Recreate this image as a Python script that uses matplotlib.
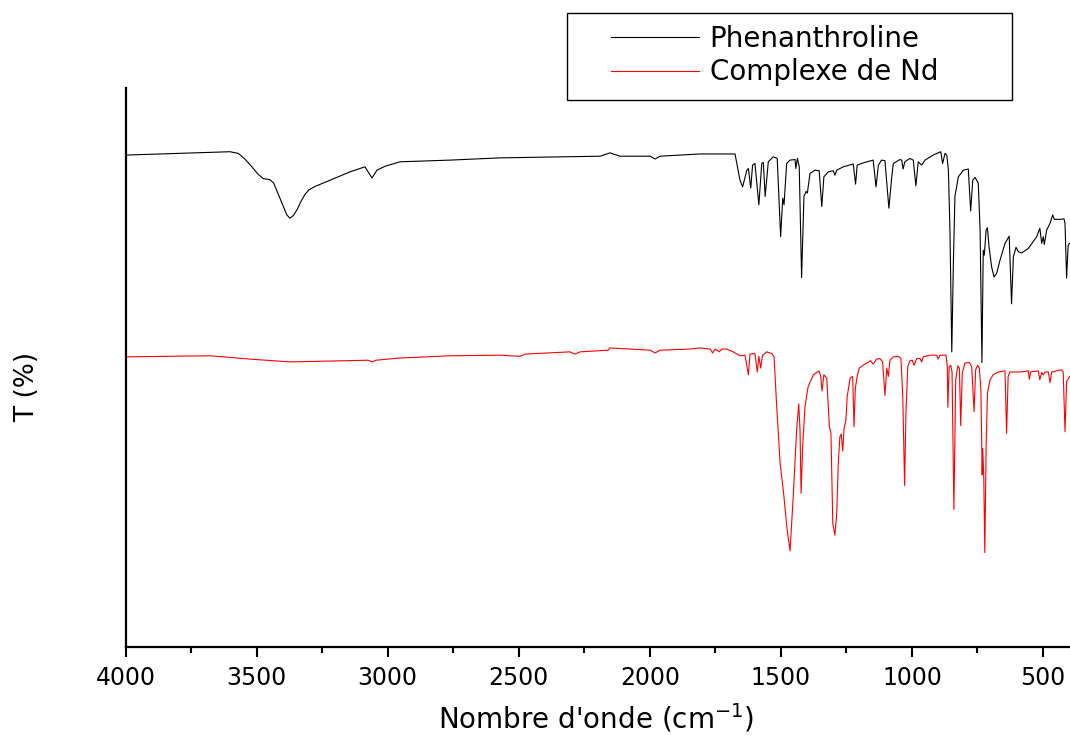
import matplotlib
matplotlib.use("Agg")
import matplotlib.pyplot as plt
from matplotlib.ticker import MultipleLocator
from matplotlib.patches import Rectangle

# ---- data (wavenumber cm-1, transmittance in arbitrary %) ----
phen_wn = [4000, 3602, 3570, 3545, 3520, 3495, 3475, 3450, 3435, 3420, 3400, 3385, 3373, 3360,
           3345, 3330, 3315, 3300, 3277, 3220, 3144, 3087,
           3060, 3041, 3010, 2953, 2762, 2572, 2190, 2152, 2114, 1999, 1980, 1961, 1885, 1809,
           1675, 1656, 1646, 1630, 1624, 1615, 1608, 1599, 1584, 1573, 1567, 1560, 1548, 1529,
           1514, 1501, 1493, 1488, 1478, 1465, 1446, 1443, 1437, 1430, 1421, 1412, 1404, 1399,
           1389, 1370, 1354, 1344, 1336, 1319, 1300, 1294, 1287, 1262, 1224, 1215, 1209, 1186,
           1148, 1137, 1128, 1116, 1103, 1088, 1077, 1071, 1046, 1039, 1034, 1027, 1008, 995,
           985, 976, 963, 950, 919, 890, 883, 874, 867, 861, 855, 848, 842, 836, 823, 804, 785,
           776, 768, 759, 747, 740, 733, 728, 724, 717, 712, 706, 696, 687, 677, 664, 645, 629,
           620, 613, 603, 594, 581, 556, 524, 512, 505, 499, 495, 486, 473, 463, 457, 435, 420,
           416, 410, 404, 398]
phen_T = [88.0, 88.6, 88.3, 87.3, 86.0, 84.6, 83.8, 83.6, 83.0, 81.3, 79.0, 77.3, 76.7, 77.2,
          78.3, 79.8, 81.0, 81.8, 82.4, 83.5, 85.0, 85.9,
          83.9, 85.3, 86.0, 86.8, 87.1, 87.5, 87.8, 88.4, 87.8, 87.8, 87.3, 87.8, 88.0, 88.2,
          88.2, 83.5, 82.3, 85.3, 85.6, 82.1, 86.2, 86.5, 79.1, 86.5, 86.7, 80.6, 86.8, 87.7,
          87.4, 73.4, 80.3, 79.1, 86.5, 87.1, 87.2, 85.6, 87.4, 85.9, 66.1, 80.6, 81.5, 81.2,
          84.7, 85.3, 85.2, 78.8, 84.1, 85.0, 85.2, 84.4, 85.3, 85.9, 86.4, 82.8, 86.2, 86.6,
          87.1, 82.3, 86.2, 87.1, 87.0, 78.5, 84.1, 86.5, 87.2, 87.1, 85.5, 86.8, 87.4, 87.1,
          82.5, 86.8, 86.2, 87.1, 88.0, 88.6, 86.5, 88.3, 88.0, 85.3, 74.6, 52.8, 68.6, 80.6,
          84.1, 85.3, 85.5, 78.0, 83.5, 84.0, 83.0, 74.6, 50.9, 71.0, 70.1, 74.6, 75.0, 71.6,
          68.0, 66.2, 66.8, 69.2, 72.2, 73.5, 61.4, 69.8, 71.5, 70.7, 70.5, 71.3, 73.4, 74.9,
          72.2, 73.4, 72.0, 74.6, 75.8, 77.3, 76.5, 76.5, 76.6, 75.8, 66.0, 71.9, 72.2]

nd_wn = [4000, 3678, 3525, 3373, 3182, 3075, 3060, 3045, 2953, 2762, 2572, 2495, 2476, 2305,
         2285, 2266, 2159, 2152, 1999, 1980, 1961, 1847, 1809, 1770, 1760, 1751, 1735, 1726,
         1707, 1682, 1656, 1637, 1624, 1618, 1599, 1590, 1584, 1577, 1570, 1554, 1535, 1526,
         1516, 1503, 1491, 1476, 1465, 1453, 1440, 1432, 1427, 1423, 1417, 1408, 1396, 1376,
         1354, 1348, 1343, 1336, 1325, 1315, 1309, 1302, 1294, 1287, 1281, 1275, 1270, 1264,
         1259, 1252, 1247, 1236, 1226, 1221, 1216, 1209, 1201, 1186, 1173, 1158, 1148, 1135,
         1122, 1112, 1103, 1096, 1090, 1084, 1071, 1052, 1042, 1035, 1028, 1023, 1016, 1008,
         999, 992, 982, 969, 963, 957, 931, 906, 900, 893, 870, 865, 863, 858, 852, 847, 840,
         833, 825, 819, 814, 808, 798, 781, 772, 763, 757, 749, 743, 737, 732, 730, 726, 722,
         717, 712, 702, 690, 671, 645, 639, 633, 626, 588, 556, 552, 547, 518, 512, 505, 499,
         492, 480, 473, 467, 448, 429, 423, 416, 410, 398]
nd_T = [51.9, 52.1, 51.5, 51.0, 51.2, 51.3, 51.0, 51.3, 51.7, 52.1, 52.2, 52.0, 52.4, 52.8,
        52.4, 52.8, 53.1, 53.5, 53.1, 52.6, 53.1, 53.3, 53.5, 53.3, 52.6, 53.3, 52.8, 53.3,
        53.3, 52.8, 52.1, 52.2, 48.7, 52.4, 52.5, 49.2, 52.0, 49.9, 52.2, 52.8, 52.5, 51.9,
        43.0, 32.9, 28.1, 20.9, 17.2, 26.9, 38.8, 43.5, 38.8, 27.5, 35.8, 43.0, 46.6, 48.7,
        49.4, 48.4, 45.8, 48.7, 48.1, 39.4, 38.2, 22.1, 20.0, 23.9, 32.9, 37.6, 38.1, 35.1,
        39.1, 40.6, 44.8, 48.1, 48.4, 39.4, 46.3, 48.4, 49.9, 50.4, 50.8, 51.2, 50.6, 51.5,
        51.6, 51.0, 45.0, 49.9, 48.4, 51.3, 51.9, 52.0, 51.6, 44.8, 28.9, 41.8, 50.1, 51.2,
        51.3, 50.4, 51.6, 51.6, 51.0, 51.9, 52.2, 52.2, 51.5, 52.2, 52.2, 50.1, 42.9, 50.1,
        50.4, 49.2, 24.6, 47.8, 50.3, 49.9, 39.6, 49.0, 50.8, 50.9, 50.1, 42.1, 49.6, 50.4,
        49.9, 46.0, 30.8, 35.5, 30.5, 16.9, 35.8, 45.4, 47.8, 48.7, 49.2, 49.4, 38.2, 48.4,
        49.2, 49.2, 49.4, 47.9, 49.2, 49.4, 47.8, 49.1, 48.7, 49.2, 49.2, 47.3, 49.2, 49.4,
        49.6, 49.2, 38.5, 47.5, 48.4]

series_labels = ["Phenanthroline", "Complexe de Nd"]
series_colors = ["#000000", "#ff0000"]
x_ticks = [4000, 3500, 3000, 2500, 2000, 1500, 1000, 500]

# ---- figure ----
W, H = 1070, 736
fig = plt.figure(figsize=(W / 100, H / 100), dpi=100)
ax = fig.add_axes([125.6 / W, (H - 647) / H, (W - 125.6) / W, (647 - 88) / H])

l1, = ax.plot(phen_wn, phen_T, color=series_colors[0], lw=0.8, label=series_labels[0])
l2, = ax.plot(nd_wn, nd_T, color=series_colors[1], lw=0.8, label=series_labels[1])

ax.set_xlim(4000, 397)
ax.set_ylim(0, 100)
ax.set_xticks(x_ticks)
ax.set_xticklabels([str(t) for t in x_ticks])
ax.xaxis.set_minor_locator(MultipleLocator(250))
ax.set_yticks([])

for s in ["top", "right"]:
    ax.spines[s].set_visible(False)
for s in ["left", "bottom"]:
    ax.spines[s].set_linewidth(1.6)

ax.tick_params(axis="x", which="major", direction="out", length=7, width=1.5,
               labelsize=17, pad=7)
ax.tick_params(axis="x", which="minor", direction="out", length=4.3, width=1.5)

ax.set_xlabel(r"Nombre d'onde (cm$^{-1}$)", fontsize=20)
ax.xaxis.set_label_coords((596 - 125.6) / (W - 125.6), (647 - 718) / 559)
ax.xaxis.label.set_verticalalignment("center")
ax.set_ylabel("T (%)", fontsize=19)
ax.yaxis.set_label_coords((27 - 125.6) / (W - 125.6), (647 - 387) / 559)
ax.yaxis.label.set_verticalalignment("center")

# legend with Origin-style frame
fig.patches.append(Rectangle((567 / W, 1 - 100 / H), (1012 - 567) / W, (100 - 13) / H,
                             transform=fig.transFigure, fill=False, edgecolor="black",
                             linewidth=1.0))
leg = ax.legend(handles=[l1, l2], loc="upper left",
                bbox_to_anchor=(611 / W, 1 - 25 / H), bbox_transform=fig.transFigure,
                frameon=False, fontsize=20, handlelength=3.15, handletextpad=0.4,
                labelspacing=0.19, borderpad=0, borderaxespad=0)

fig.savefig("out.png", dpi=100)
